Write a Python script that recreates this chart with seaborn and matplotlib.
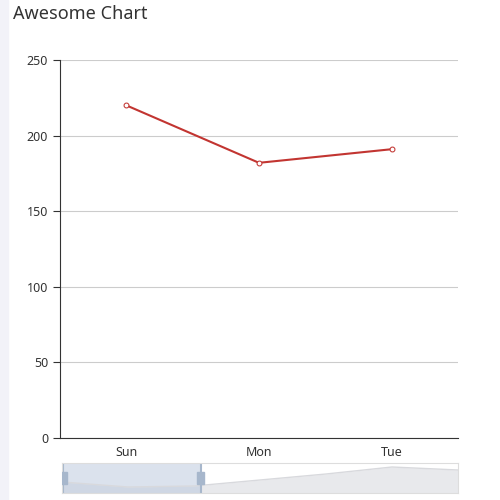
import matplotlib.pyplot as plt
import seaborn as sns
from matplotlib.patches import Rectangle

days = ['Sun', 'Mon', 'Tue']
values = [220, 182, 191]
# overview shadow in the zoom slider (whole series, rough read)
shadow_values = [110, 60, 70, 130, 190, 260, 230]

sns.set_style('white')
plt.rcParams['font.family'] = ['Microsoft YaHei', 'Noto Sans', 'DejaVu Sans']

fig = plt.figure(figsize=(5, 5), dpi=100)
W, H = 500, 500
# light page frame
fig.patches.append(Rectangle((0, 0), 8 / W, 1, transform=fig.transFigure, color='#f2f2f8', zorder=0))
fig.text(13 / W, 1 - 14 / H, 'Awesome Chart', fontsize=13, fontweight='bold', color='#333333', va='center')

ax = fig.add_axes([60 / W, 1 - 438 / H, 398 / W, 378 / H])
sns.lineplot(x=[0.5, 1.5, 2.5], y=values, ax=ax, color='#c23531', linewidth=1.5,
             marker='o', markersize=3.5, markerfacecolor='white', markeredgecolor='#c23531')
ax.set_xlim(0, 3)
ax.set_ylim(0, 250)
ax.set_yticks([0, 50, 100, 150, 200, 250])
ax.set_xticks([0, 1, 2, 3])
ax.set_xticklabels([])
ax.set_xticks([0.5, 1.5, 2.5], minor=True)
ax.set_xticklabels(days, minor=True)
ax.tick_params(axis='x', which='minor', length=0, labelsize=9, colors='#333333', pad=6)
ax.tick_params(axis='x', which='major', length=5, color='#333333', direction='out')
ax.tick_params(axis='y', length=5, labelsize=9, colors='#333333', left=True)
ax.grid(axis='y', color='#cccccc', linewidth=0.8)
for s in ['top', 'right']:
    ax.spines[s].set_visible(False)
ax.spines['left'].set_color('#333333')
ax.spines['bottom'].set_color('#333333')
ax.set_xlabel('')
ax.set_ylabel('')

# data zoom slider
sl = fig.add_axes([62 / W, 1 - 493 / H, 396 / W, 30 / H])
xs = list(range(len(shadow_values)))
sl.fill_between(xs, shadow_values, color='#e8e9ec', linewidth=0)
sl.plot(xs, shadow_values, color='#d8d9dd', linewidth=1)
sl.set_xlim(0, len(shadow_values) - 1)
sl.set_ylim(0, 300)
sel = 0.35 * (len(shadow_values) - 1)
sl.axvspan(0, sel, color='#b8c7dd', alpha=0.5, linewidth=0)
for xh in [0.02, sel]:
    sl.axvline(xh, color='#a7b7cc', linewidth=1.5)
    sl.add_patch(Rectangle((xh - 0.05, 90), 0.1, 120, color='#a7b7cc', zorder=5))
sl.set_xticks([])
sl.set_yticks([])
for s in sl.spines.values():
    s.set_color('#dddddd')

fig.savefig('out.png', dpi=100)
